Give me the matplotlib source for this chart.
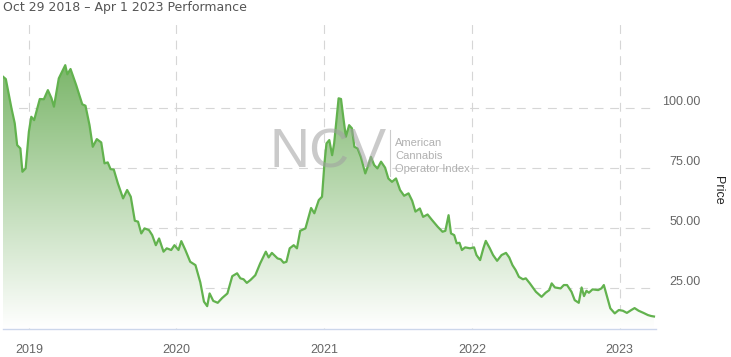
import numpy as np
import pandas as pd
import matplotlib as mpl
import matplotlib.pyplot as plt
import matplotlib.dates as mdates
from matplotlib.patches import Polygon
from matplotlib.colors import LinearSegmentedColormap
from matplotlib.ticker import FixedLocator, FormatStrFormatter

# NCV index closes
dates = [
    "2018-10-29", "2018-11-05", "2018-11-11", "2018-11-19", "2018-11-27", "2018-12-03",
    "2018-12-11", "2018-12-16", "2018-12-24", "2019-01-01", "2019-01-07", "2019-01-14",
    "2019-01-28", "2019-02-07", "2019-02-17", "2019-02-26", "2019-03-04", "2019-03-16",
    "2019-04-01", "2019-04-06", "2019-04-14", "2019-04-28", "2019-05-13", "2019-05-21",
    "2019-05-31", "2019-06-08", "2019-06-18", "2019-06-29", "2019-07-07", "2019-07-15",
    "2019-07-22", "2019-07-30", "2019-08-09", "2019-08-22", "2019-09-01", "2019-09-10",
    "2019-09-20", "2019-09-28", "2019-10-06", "2019-10-14", "2019-10-25", "2019-11-02",
    "2019-11-11", "2019-11-19", "2019-11-30", "2019-12-08", "2019-12-19", "2019-12-27",
    "2020-01-06", "2020-01-13", "2020-01-23", "2020-02-04", "2020-02-17", "2020-02-29",
    "2020-03-09", "2020-03-17", "2020-03-23", "2020-04-01", "2020-04-12", "2020-04-23",
    "2020-05-06", "2020-05-18", "2020-05-30", "2020-06-07", "2020-06-15", "2020-06-23",
    "2020-07-02", "2020-07-14", "2020-07-26", "2020-08-09", "2020-08-16", "2020-08-24",
    "2020-09-07", "2020-09-15", "2020-09-22", "2020-09-29", "2020-10-07", "2020-10-17",
    "2020-10-25", "2020-11-02", "2020-11-15", "2020-11-29", "2020-12-07", "2020-12-18",
    "2020-12-26", "2021-01-01", "2021-01-06", "2021-01-13", "2021-01-20", "2021-01-25",
    "2021-01-31", "2021-02-05", "2021-02-11", "2021-02-17", "2021-02-23", "2021-03-03",
    "2021-03-10", "2021-03-16", "2021-03-24", "2021-04-01", "2021-04-12", "2021-04-18",
    "2021-04-26", "2021-05-04", "2021-05-12", "2021-05-21", "2021-05-31", "2021-06-08",
    "2021-06-17", "2021-06-27", "2021-07-07", "2021-07-17", "2021-07-28", "2021-08-06",
    "2021-08-14", "2021-08-25", "2021-09-02", "2021-09-13", "2021-09-24", "2021-10-08",
    "2021-10-20", "2021-10-27", "2021-11-04", "2021-11-10", "2021-11-18", "2021-11-24",
    "2021-12-01", "2021-12-07", "2021-12-15", "2021-12-27", "2022-01-06", "2022-01-12",
    "2022-01-21", "2022-01-29", "2022-02-04", "2022-02-14", "2022-02-22", "2022-03-04",
    "2022-03-15", "2022-03-26", "2022-04-03", "2022-04-11", "2022-04-19", "2022-04-27",
    "2022-05-07", "2022-05-14", "2022-05-24", "2022-06-08", "2022-06-22", "2022-07-02",
    "2022-07-11", "2022-07-17", "2022-07-25", "2022-08-08", "2022-08-16", "2022-08-24",
    "2022-09-04", "2022-09-12", "2022-09-22", "2022-09-29", "2022-10-05", "2022-10-11",
    "2022-10-17", "2022-10-26", "2022-11-09", "2022-11-17", "2022-11-23", "2022-11-30",
    "2022-12-09", "2022-12-20", "2022-12-30", "2023-01-09", "2023-01-19", "2023-01-30",
    "2023-02-07", "2023-02-17", "2023-03-01", "2023-03-12", "2023-03-20", "2023-03-27",
]
prices = [
    113.2, 112.2, 106.9, 100.0, 93.8, 84.7,
    83.3, 73.6, 75.0, 90.3, 96.5, 95.1,
    103.9, 103.8, 107.6, 104.2, 100.7, 112.5,
    118.0, 114.2, 116.4, 109.7, 101.7, 101.1,
    93.0, 84.0, 87.2, 85.8, 77.1, 77.5,
    74.7, 74.5, 68.8, 62.5, 66.0, 63.2,
    53.2, 52.8, 47.9, 50.0, 49.3, 47.2,
    43.0, 45.8, 40.3, 41.7, 41.0, 43.0,
    41.0, 44.7, 41.0, 36.1, 34.7, 27.5,
    19.5, 17.6, 22.9, 19.8, 19.0, 21.0,
    22.9, 30.1, 31.3, 29.2, 28.8, 27.3,
    28.5, 30.5, 35.4, 40.3, 37.9, 39.8,
    37.5, 37.1, 35.7, 36.1, 41.7, 43.0,
    41.7, 49.0, 50.0, 58.5, 56.3, 61.8,
    63.2, 77.1, 85.4, 86.8, 80.5, 85.4,
    95.8, 104.2, 103.9, 95.8, 88.2, 93.0,
    91.7, 84.0, 83.3, 79.8, 72.9, 75.7,
    79.8, 76.4, 75.0, 77.8, 75.3, 70.8,
    69.4, 70.8, 66.0, 63.6, 64.6, 61.5,
    57.0, 58.3, 54.8, 55.8, 53.5, 50.7,
    48.6, 49.0, 55.5, 47.9, 47.2, 43.8,
    44.0, 41.0, 42.1, 41.7, 42.1, 38.9,
    36.8, 41.7, 44.8, 41.7, 38.9, 36.5,
    38.9, 39.8, 37.9, 34.7, 32.6, 29.8,
    28.8, 29.2, 27.1, 23.6, 21.5, 23.2,
    24.3, 27.1, 25.4, 25.0, 26.4, 26.4,
    23.6, 20.1, 19.0, 25.4, 21.8, 24.0,
    23.2, 24.6, 24.3, 25.0, 26.4, 22.2,
    16.7, 14.6, 16.0, 15.7, 14.8, 16.0,
    16.8, 15.7, 14.8, 13.9, 13.5, 13.3,
]
y_ticks = [25, 50, 75, 100]
title = "Oct 29 2018 \u2013 Apr 1 2023 Performance"

y_min, y_max = 8.3, 136.4
line_col = '#62b24e'
grid_col = '#d6d6d6'
label_col = '#666666'

W, H = 731, 357
fig = plt.figure(figsize=(W / 100, H / 100), dpi=100)
ax = fig.add_axes([3 / W, (H - 328.5) / H, 653 / W, 307.5 / H])

x = mdates.date2num(pd.to_datetime(dates))
ax.set_xlim(mdates.date2num(pd.Timestamp("2018-10-29")), mdates.date2num(pd.Timestamp("2023-04-01")))
ax.set_ylim(y_min, y_max)

# gradient fill under the line
verts = [(x[0], y_min)] + list(zip(x, prices)) + [(x[-1], y_min)]
area = Polygon(verts, facecolor='none', edgecolor='none')
ax.add_patch(area)
cmap = LinearSegmentedColormap.from_list('fade', ['#ffffff', '#66aa52'])
grad = np.linspace(0, 1, 256).reshape(-1, 1)
img = ax.imshow(grad, extent=[x[0], x[-1], y_min, y_max], origin='lower',
                aspect='auto', cmap=cmap, zorder=1)
img.set_clip_path(area)

ax.plot(x, prices, color=line_col, lw=1.6, zorder=3, solid_joinstyle='round')

# grid
ax.xaxis.set_major_locator(mdates.YearLocator())
ax.xaxis.set_major_formatter(mdates.DateFormatter('%Y'))
ax.yaxis.set_major_locator(FixedLocator(y_ticks))
ax.yaxis.set_major_formatter(FormatStrFormatter('%.2f'))
ax.grid(True, color=grid_col, lw=0.8, ls=(0, (8, 6)), zorder=0)
ax.set_axisbelow(True)

for s in ['top', 'left', 'right']:
    ax.spines[s].set_visible(False)
ax.spines['bottom'].set_color('#ccd6eb')
ax.spines['bottom'].set_linewidth(1)

ax.tick_params(axis='x', length=0, pad=11, labelsize=9, labelcolor=label_col)
ax.yaxis.tick_right()
ax.tick_params(axis='y', length=0, pad=32, labelsize=9, labelcolor=label_col)
for lbl in ax.get_xticklabels() + ax.get_yticklabels():
    lbl.set_fontfamily('Liberation Sans')
for lbl in ax.get_yticklabels():
    lbl.set_ha('right')
    lbl.set_va('bottom')

fig.text(718 / W, 1 - 190 / H, 'Price', rotation=270, ha='center', va='center',
         fontsize=9, family='Liberation Sans', color='#222222')

fig.text(3 / W, 1 - 8 / H, title, ha='left', va='center', fontsize=9,
         family='DejaVu Sans', color='#555555')

# NCV watermark
fig.text(328 / W, 1 - 154 / H, 'NCV', ha='center', va='center', fontsize=40,
         family='Liberation Sans', color='#a0a0a0', alpha=0.55, zorder=5)
fig.add_artist(plt.Line2D([390 / W, 390 / W], [1 - 130 / H, 1 - 176 / H],
                          color='#cccccc', lw=0.8, zorder=5))
for txt, yy in zip(['American', 'Cannabis', 'Operator Index'], [143, 156, 169]):
    fig.text(395 / W, 1 - yy / H, txt, ha='left', va='center', fontsize=8,
             family='Liberation Sans', color='#a8a8a8', alpha=0.9, zorder=5)

fig.savefig('out.png', dpi=100)
